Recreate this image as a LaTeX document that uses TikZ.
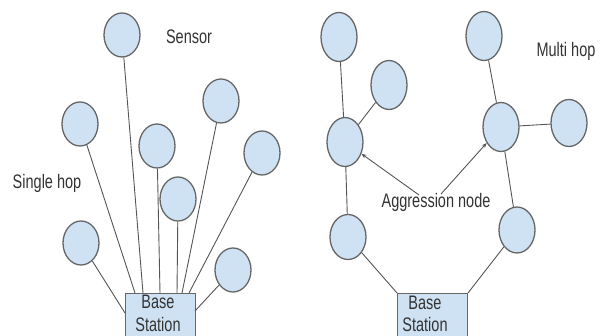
\documentclass[tikz,border=0pt]{standalone}
\usepackage{fontspec}
\usepackage{graphicx}
\setmainfont{Liberation Sans}
\usetikzlibrary{arrows.meta,shapes.geometric}
\definecolor{nodefill}{HTML}{CFE2F3}
\definecolor{nodeline}{HTML}{666666}
\definecolor{edgeline}{HTML}{555555}
\definecolor{txt}{HTML}{333333}
\newcommand\vstretchtxt[1]{\scalebox{1}[1.35]{#1}}
\tikzset{
  sensor/.style={ellipse, draw=nodeline, fill=nodefill, line width=1.3pt, minimum width=36pt, minimum height=44pt, inner sep=0pt},
  sensorr/.style={sensor, minimum height=49pt},
  basebox/.style={draw=nodeline, fill=nodefill, line width=1pt, minimum width=70pt, minimum height=60pt, inner sep=0pt},
  link/.style={draw=edgeline, line width=0.9pt},
  pointer/.style={draw=edgeline, line width=0.9pt, -{Stealth[length=5pt,width=4pt]}},
  lbl/.style={text=txt, font=\fontsize{14.5pt}{17pt}\selectfont, inner sep=0pt},
}
\begin{document}
\begin{tikzpicture}[x=1pt,y=-1pt]
\useasboundingbox (0,0) rectangle (602,336);
\clip (0,0) rectangle (602,336);
% ---------- left: single hop ----------
\node[basebox, anchor=north west] (bsL) at (125,293) {};
\node[lbl] (bsLt1) at (158,302) {\vstretchtxt{Base}};
\node[lbl] (bsLt2) at (158,324.5) {\vstretchtxt{Station}};
\node[sensor] (l1) at (122,35) {};
\node[sensor] (l2) at (80,124) {};
\node[sensor] (l3) at (157,146) {};
\node[sensor] (l4) at (221,101) {};
\node[sensor] (l5) at (262,153) {};
\node[sensor] (l6) at (178,199) {};
\node[sensor] (l7) at (81,243) {};
\node[sensor] (l8) at (233,270) {};
\coordinate (p1) at (143,293);
\coordinate (p2) at (135,293);
\coordinate (p3) at (160,293);
\coordinate (p4) at (182,293);
\coordinate (p5) at (189,293);
\coordinate (p6) at (177,293);
\coordinate (p7) at (125,313);
\coordinate (p8) at (195,311);
\foreach \i in {1,...,8}{\draw[link] (l\i) -- (p\i);}
\node[lbl] (sensorlbl) at (189,37) {\vstretchtxt{Sensor}};
\node[lbl] (singlelbl) at (47,183) {\vstretchtxt{Single hop}};
% ---------- right: multi hop ----------
\node[basebox, anchor=north west] (bsR) at (397,293) {};
\node[lbl] (bsRt1) at (425,303) {\vstretchtxt{Base}};
\node[lbl] (bsRt2) at (425,325) {\vstretchtxt{Station}};
\node[sensorr] (ra) at (339,37) {};
\node[sensorr] (rb) at (389,85) {};
\node[sensorr] (rc) at (345,142) {};
\node[sensor, minimum height=45pt] (rd) at (348,237) {};
\node[sensorr] (re) at (484,36) {};
\node[sensorr] (rf) at (501,127) {};
\node[sensor, minimum height=47pt] (rg) at (569,123) {};
\node[sensor, minimum height=46pt] (rh) at (517,230) {};
\draw[link] (ra) -- (rc);
\draw[link] (rb) -- (rc);
\draw[link] (rc) -- (rd);
\draw[link] (rd) -- (bsR.north west);
\draw[link] (re) -- (rf);
\draw[link] (rf) -- (rg);
\draw[link] (rf) -- (rh);
\draw[link] (rh) -- (bsR.north east);
\node[lbl] (agglbl) at (436,202) {\vstretchtxt{Aggression node}};
\node[lbl] (multilbl) at (566,51) {\vstretchtxt{Multi hop}};
\coordinate (a1) at (419,195);
\coordinate (a2) at (441,194);
\draw[pointer] (a1) -- (rc);
\draw[pointer] (a2) -- (rf);
\end{tikzpicture}
\end{document}
